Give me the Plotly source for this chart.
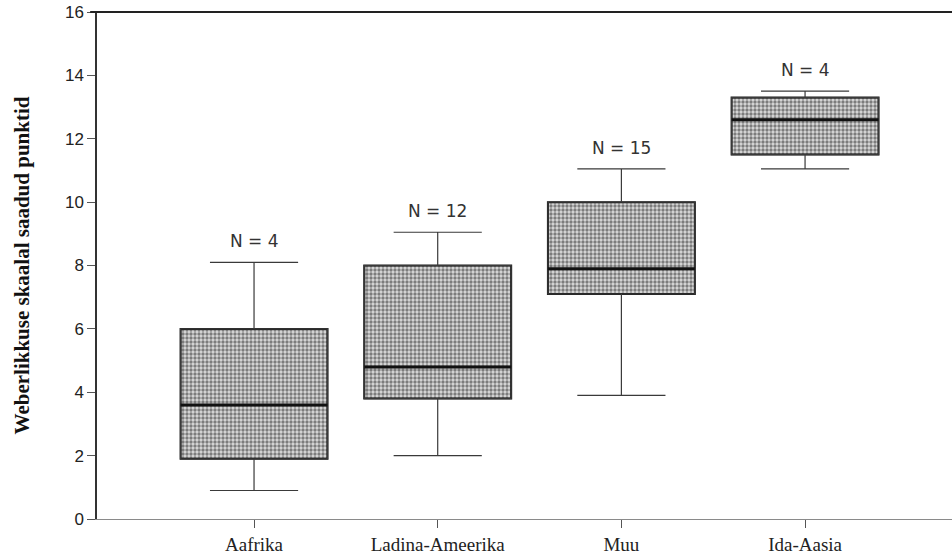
import plotly.graph_objects as go

# Summary statistics per region
regions = ["Aafrika", "Ladina-Ameerika", "Muu", "Ida-Aasia"]
n_counts = [4, 12, 15, 4]
lower_whisker = [0.9, 2.0, 3.9, 11.05]
q1 = [1.9, 3.8, 7.1, 11.5]
median = [3.6, 4.8, 7.9, 12.6]
q3 = [6.0, 8.0, 10.0, 13.3]
upper_whisker = [8.1, 9.05, 11.05, 13.5]

box_width = 0.8

fig = go.Figure()

# Stippled fill and dark frame of the interquartile range
fig.add_trace(go.Bar(
    x=regions,
    y=[hi - lo for hi, lo in zip(q3, q1)],
    base=q1,
    width=box_width,
    marker=dict(
        color="#cfcfcf",
        line=dict(width=2, color="#1a1a1a"),
        pattern=dict(shape=".", fgcolor="#1e1e1e", bgcolor="#dadada",
                     size=4, solidity=0.55),
    ),
    hoverinfo="skip",
    showlegend=False,
))

# Whiskers and caps
fig.add_trace(go.Box(
    x=regions,
    q1=q1,
    median=median,
    q3=q3,
    lowerfence=lower_whisker,
    upperfence=upper_whisker,
    width=box_width,
    whiskerwidth=0.6,
    fillcolor="rgba(0,0,0,0)",
    line=dict(color="#3a3a3a", width=1.2),
    boxpoints=False,
    hoverinfo="skip",
    showlegend=False,
))

# Heavy median bar
fig.add_trace(go.Box(
    x=regions,
    q1=median,
    median=median,
    q3=median,
    lowerfence=median,
    upperfence=median,
    width=box_width,
    whiskerwidth=0,
    fillcolor="rgba(0,0,0,0)",
    line=dict(color="#111111", width=3),
    boxpoints=False,
    hoverinfo="skip",
    showlegend=False,
))

# Group sizes above the upper whiskers
for reg, n, top in zip(regions, n_counts, upper_whisker):
    fig.add_annotation(
        x=reg, y=top, text=f"N = {n}", showarrow=False,
        yanchor="bottom", yshift=9,
        font=dict(family="DejaVu Sans, Arial, sans-serif", size=17, color="#333333"),
    )

fig.update_layout(
    width=952, height=555,
    margin=dict(l=97, r=0, t=12, b=36),
    paper_bgcolor="white", plot_bgcolor="white",
    barmode="overlay", boxmode="overlay",
    xaxis=dict(
        type="category",
        categoryorder="array", categoryarray=regions,
        range=[-0.855, 3.8],
        automargin=False,
        showline=True, linecolor="#8a8a8a", linewidth=1,
        ticks="outside", ticklen=8, tickcolor="#555555",
        showgrid=False, zeroline=False,
        tickfont=dict(family="Liberation Serif, Times New Roman, serif", size=19, color="#222222"),
    ),
    yaxis=dict(
        range=[0, 16], dtick=2,
        automargin=False,
        showline=True, linecolor="#333333", linewidth=1.5,
        ticks="outside", ticklen=8, tickcolor="#555555",
        showgrid=False, zeroline=False,
        tickfont=dict(family="Liberation Sans, Arial, sans-serif", size=17, color="#222222"),
        title=dict(
            text="<b>Weberlikkuse skaalal saadud punktid</b>",
            font=dict(family="Liberation Serif, Times New Roman, serif", size=21, color="#111111"),
            standoff=30,
        ),
    ),
    shapes=[dict(
        type="line", xref="paper", yref="paper",
        x0=-0.008, x1=1, y0=1, y1=1,
        line=dict(color="#222222", width=2),
    )],
)

fig.write_html("out.html")
